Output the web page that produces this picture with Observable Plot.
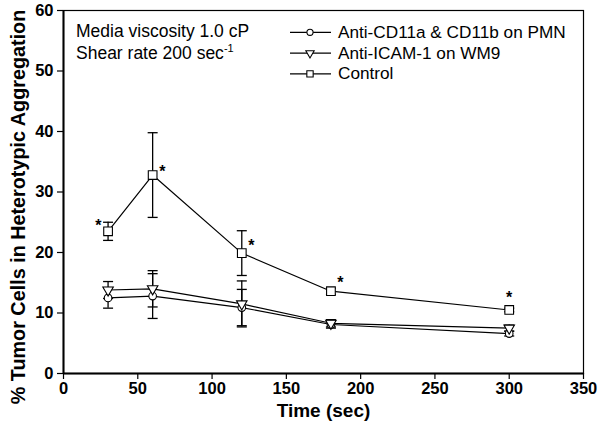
<!DOCTYPE html>
<html><head><meta charset="utf-8">
<script src="https://cdn.jsdelivr.net/npm/d3@7"></script>
<script src="https://cdn.jsdelivr.net/npm/@observablehq/plot@0.6"></script>
<style>
body{margin:0;background:#fff;}
#chart{position:relative;width:600px;height:428px;}
svg{font-family:"Liberation Sans",Arial,sans-serif;}
</style></head>
<body><div id="chart"></div>
<script>
const times = [30, 60, 120, 180, 300];
const seriesNames = ["Anti-CD11a & CD11b on PMN", "Anti-ICAM-1 on WM9", "Control"];
const cd11Mean = [12.5, 12.8, 10.9, 8.1, 6.6];
const cd11Err  = [1.7, 3.7, 3.0, 0.6, 0.4];
const icamMean = [13.8, 14.0, 11.5, 8.3, 7.5];
const icamErr  = [1.4, 3.0, 3.8, 0.6, 0.5];
const ctrlMean = [23.5, 32.8, 19.9, 13.6, 10.5];
const ctrlErr  = [1.5, 7.0, 3.7, 0.5, 0.3];
const starX = [23.5, 66.6, 126.5, 186.4, 300];
const starY = [25.0, 34.0, 21.7, 15.7, 13.2];
const xTicks = [0, 50, 100, 150, 200, 250, 300, 350];
const yTicks = [0, 10, 20, 30, 40, 50, 60];
const xLabel = "Time (sec)";
const yLabel = "% Tumor Cells in Heterotypic Aggregation";

const symbols = ["circle", "triangle", "square"];
const rotations = [0, 180, 0];
const sizes = [3.8, 3.9, 4.9];
const means = [cd11Mean, icamMean, ctrlMean];
const errs = [cd11Err, icamErr, ctrlErr];

const rows = [];
seriesNames.forEach((s, i) => times.forEach((t, j) => rows.push({
  series: s, idx: i, time: t, mean: means[i][j], lo: means[i][j] - errs[i][j], hi: means[i][j] + errs[i][j]
})));
const stars = starX.map((x, i) => ({x, y: starY[i]}));

const capSymbol = {draw(ctx, size) { const r = 5; ctx.moveTo(-r, 0); ctx.lineTo(r, 0); }};

const marks = [
  Plot.frame({stroke: "black", strokeWidth: 1.2}),
  Plot.ruleX(rows, {x: "time", y1: "lo", y2: "hi", stroke: "black", strokeWidth: 1.3}),
  Plot.dot(rows, {x: "time", y: "lo", symbol: capSymbol, r: 5, stroke: "black", strokeWidth: 1.3}),
  Plot.dot(rows, {x: "time", y: "hi", symbol: capSymbol, r: 5, stroke: "black", strokeWidth: 1.3}),
];
seriesNames.forEach((s, i) => {
  const d = rows.filter(r => r.idx === i);
  marks.push(Plot.line(d, {x: "time", y: "mean", stroke: "black", strokeWidth: 1.2}));
});
seriesNames.forEach((s, i) => {
  const d = rows.filter(r => r.idx === i);
  marks.push(Plot.dot(d, {x: "time", y: "mean", symbol: symbols[i], rotate: rotations[i], r: sizes[i], fill: "white", stroke: "black", strokeWidth: 1.1}));
});
marks.push(Plot.text(stars, {x: "x", y: "y", text: () => "*", fontSize: 16, fontWeight: "bold", dy: 4, fill: "black"}));
marks.push(Plot.axisX({ticks: xTicks, tickSize: 6, tickPadding: 3, fontSize: 16.5, fontWeight: "bold", label: null, stroke: "black", strokeWidth: 1.2}));
marks.push(Plot.axisY({ticks: yTicks, tickSize: 6, tickPadding: 4, fontSize: 16.5, fontWeight: "bold", label: null, stroke: "black", strokeWidth: 1.2}));
marks.push(Plot.ruleX([0], {stroke: "black", strokeWidth: 2}));
marks.push(Plot.ruleY([0], {stroke: "black", strokeWidth: 2}));

const chart = Plot.plot({
  width: 600, height: 428,
  marginLeft: 63, marginRight: 17, marginTop: 10, marginBottom: 55,
  x: {domain: [0, 350]},
  y: {domain: [0, 60]},
  style: {fontFamily: "Liberation Sans, Arial, sans-serif", color: "black", background: "white", overflow: "visible"},
  marks
});
document.getElementById("chart").appendChild(chart);

const svg = d3.select(chart);
const g = svg.append("g").attr("font-family", "Liberation Sans, Arial, sans-serif").attr("fill", "black").attr("text-anchor", "start");

g.append("text").attr("x", 323.5).attr("y", 417).attr("text-anchor", "middle")
  .attr("font-size", 19).attr("font-weight", "bold").text(xLabel);
g.append("text").attr("transform", "translate(25,207) rotate(-90)").attr("text-anchor", "middle")
  .attr("font-size", 19.8).attr("font-weight", "bold").text(yLabel);

const note = g.append("text").attr("x", 76).attr("y", 37.3).attr("font-size", 17.5);
note.append("tspan").text("Media viscosity 1.0 cP");
const note2 = g.append("text").attr("x", 76).attr("y", 59.3).attr("font-size", 17.5);
note2.append("tspan").text("Shear rate 200 sec");
note2.append("tspan").attr("dy", -7).attr("font-size", 11).text("-1");

const sym = d3.symbol();
const symTypes = [d3.symbolCircle, d3.symbolTriangle, d3.symbolSquare];
seriesNames.forEach((s, i) => {
  const y = 32.3 + i * 20.8;
  g.append("line").attr("x1", 290).attr("x2", 331).attr("y1", y).attr("y2", y).attr("stroke", "black").attr("stroke-width", 1.2);
  g.append("path").attr("d", sym.type(symTypes[i]).size(i === 2 ? 40 : 30)())
    .attr("transform", `translate(310,${y}) rotate(${rotations[i]})`)
    .attr("fill", "white").attr("stroke", "black").attr("stroke-width", 1.1);
  g.append("text").attr("x", 338).attr("y", y + 5.5).attr("font-size", 17.2).text(s);
});
</script></body></html>
